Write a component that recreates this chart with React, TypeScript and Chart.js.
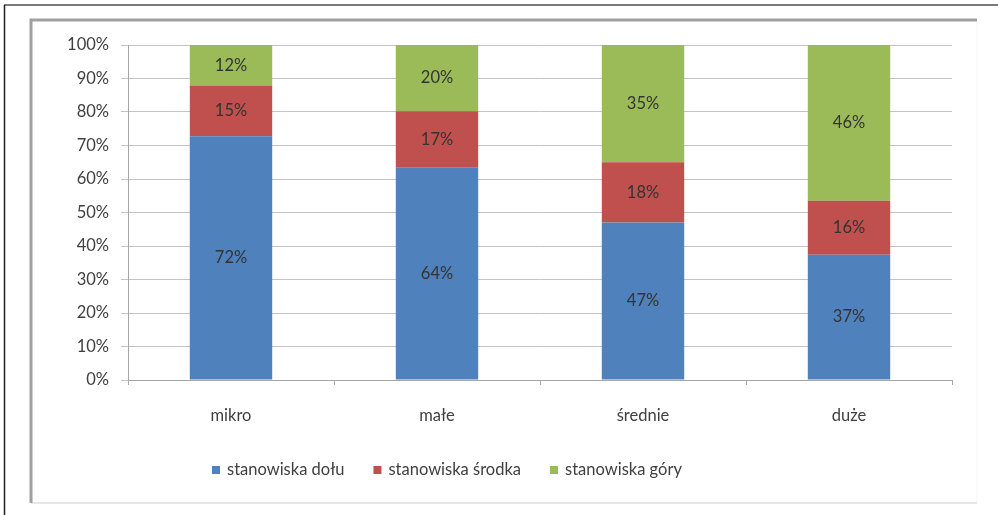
import { useEffect, useRef } from "react";
import { Chart, registerables } from "chart.js";
Chart.register(...registerables);

const categories = ["mikro", "małe", "średnie", "duże"];
const doluValues = [72, 64, 47, 37];
const srodkaValues = [15, 17, 18, 16];
const goryValues = [12, 20, 35, 46];
const seriesNames = ["stanowiska dołu", "stanowiska środka", "stanowiska góry"];
const seriesColors = ["#4f81bd", "#c0504d", "#9bbb59"];
const yTickLabels = ["0%", "10%", "20%", "30%", "40%", "50%", "60%", "70%", "80%", "90%", "100%"];

const FONT = "Lato, 'Open Sans', sans-serif";
const TEXT = "#404040";

export default function App() {
  const ref = useRef<HTMLCanvasElement>(null);
  useEffect(() => {
    const series = [doluValues, srodkaValues, goryValues];
    const totals = categories.map((_, i) => series.reduce((a, s) => a + s[i], 0));

    const framePlugin = {
      id: "frame",
      beforeDraw(chart: any) {
        const ctx = chart.ctx;
        ctx.save();
        ctx.fillStyle = "#ffffff";
        ctx.fillRect(0, 0, chart.width, chart.height);
        // outer frame
        ctx.strokeStyle = "#7a7a7a";
        ctx.lineWidth = 2;
        ctx.beginPath();
        ctx.moveTo(4, 5);
        ctx.lineTo(998, 5);
        ctx.stroke();
        ctx.strokeStyle = "#202020";
        ctx.lineWidth = 1.5;
        ctx.beginPath();
        ctx.moveTo(4.5, 5);
        ctx.lineTo(4.5, 515);
        ctx.stroke();
        // inner box
        ctx.strokeStyle = "#e6e6e6";
        ctx.lineWidth = 2;
        ctx.beginPath();
        ctx.moveTo(31, 503);
        ctx.lineTo(977, 503);
        ctx.stroke();
        ctx.strokeStyle = "#f4f4f4";
        ctx.lineWidth = 1;
        ctx.beginPath();
        ctx.moveTo(977, 20);
        ctx.lineTo(977, 503);
        ctx.stroke();
        ctx.strokeStyle = "#a0a0a0";
        ctx.lineWidth = 3;
        ctx.beginPath();
        ctx.moveTo(977, 20);
        ctx.lineTo(31, 20);
        ctx.lineTo(31, 503);
        ctx.stroke();
        ctx.restore();
      },
    };

    const labelPlugin = {
      id: "segLabels",
      afterDatasetsDraw(chart: any) {
        const ctx = chart.ctx;
        ctx.save();
        ctx.font = `16.5px ${FONT}`;
        ctx.fillStyle = "#333333";
        ctx.textAlign = "center";
        ctx.textBaseline = "middle";
        chart.data.datasets.forEach((ds: any, di: number) => {
          const meta = chart.getDatasetMeta(di);
          meta.data.forEach((el: any, i: number) => {
            const y = (el.y + el.base) / 2;
            ctx.fillText(series[di][i] + "%", el.x, y);
          });
        });
        ctx.restore();
      },
    };

    const legendPlugin = {
      id: "customLegend",
      afterDraw(chart: any) {
        const ctx = chart.ctx;
        ctx.save();
        ctx.font = `16.5px ${FONT}`;
        ctx.textBaseline = "middle";
        ctx.textAlign = "left";
        let x = 212;
        const y = 470;
        chart.data.datasets.forEach((ds: any) => {
          ctx.fillStyle = ds.backgroundColor;
          ctx.fillRect(x, y - 4, 8, 8);
          x += 15;
          ctx.fillStyle = TEXT;
          ctx.fillText(ds.label, x, y);
          x += ctx.measureText(ds.label).width + 29;
        });
        ctx.restore();
      },
    };

    const chart = new Chart(ref.current!, {
      type: "bar",
      data: {
        labels: categories,
        datasets: series.map((vals, s) => ({
          label: seriesNames[s],
          data: vals.map((v, i) => (v / totals[i]) * 100),
          backgroundColor: seriesColors[s],
          barPercentage: 0.4,
          categoryPercentage: 1,
        })),
      },
      options: {
        responsive: false,
        animation: false,
        layout: { padding: { top: 45, right: 46, bottom: 0, left: 0 } },
        plugins: { legend: { display: false }, tooltip: { enabled: false } },
        scales: {
          x: {
            stacked: true,
            grid: { offset: true, drawOnChartArea: false, tickLength: 5, color: "#a6a6a6" },
            border: { color: "#a6a6a6" },
            ticks: { padding: 21, color: TEXT, font: { family: FONT, size: 16.5 } },
            afterFit: (s: any) => {
              s.height = 135;
            },
          },
          y: {
            stacked: true,
            min: 0,
            max: 100,
            ticks: {
              stepSize: 10,
              padding: 12,
              color: TEXT,
              font: { family: FONT, size: 16.5 },
              callback: (v: any) => yTickLabels[Math.round(Number(v) / 10)],
            },
            grid: { color: "#c4c4c4", tickLength: 7 },
            border: { color: "#a6a6a6" },
            afterFit: (s: any) => {
              s.width = 128;
            },
          },
        },
      } as any,
      plugins: [framePlugin, labelPlugin, legendPlugin],
    });
    return () => chart.destroy();
  }, []);
  return (
    <div style={{ position: "absolute", left: 0, top: 0, width: 998, height: 515 }}>
      <canvas ref={ref} width={998} height={515} style={{ display: "block" }} />
    </div>
  );
}
